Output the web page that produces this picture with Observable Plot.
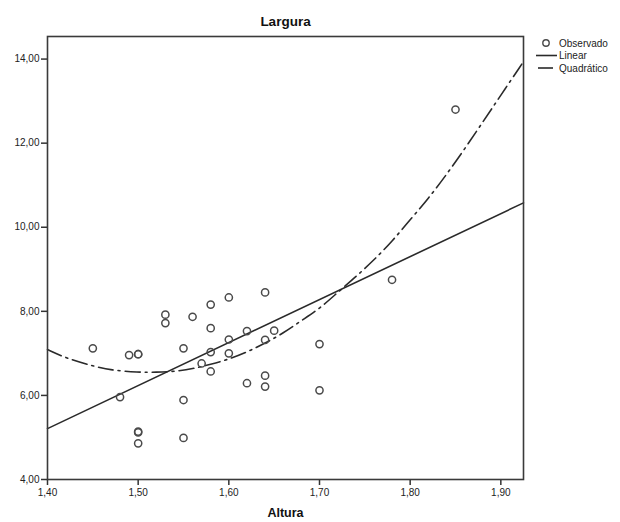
<!DOCTYPE html>
<html>
<head>
<meta charset="utf-8">
<script src="https://cdn.jsdelivr.net/npm/d3@7"></script>
<script src="https://cdn.jsdelivr.net/npm/@observablehq/plot@0.6"></script>
<style>
  html, body { margin: 0; padding: 0; background: #fff; }
  #wrap { position: relative; width: 620px; height: 522px; font-family: "Liberation Sans", Arial, sans-serif; }
  #legend { position: absolute; left: 0; top: 0; pointer-events: none; }
</style>
</head>
<body>
<div id="wrap"></div>
<script>
// Observed data (Altura, Largura)
const altura  = [1.45, 1.48, 1.49, 1.50, 1.50, 1.50, 1.50, 1.50, 1.53, 1.53, 1.55, 1.55, 1.55, 1.56, 1.57,
                 1.58, 1.58, 1.58, 1.58, 1.60, 1.60, 1.60, 1.62, 1.62, 1.64, 1.64, 1.64, 1.64, 1.65,
                 1.70, 1.70, 1.78, 1.85];
const largura = [7.12, 5.96, 6.96, 6.98, 6.98, 5.12, 5.14, 4.86, 7.92, 7.72, 7.12, 5.89, 4.99, 7.87, 6.76,
                 8.16, 7.60, 7.03, 6.57, 8.33, 7.33, 7.00, 7.53, 6.29, 8.45, 7.32, 6.47, 6.21, 7.54,
                 7.22, 6.12, 8.75, 12.80];

// Linear fit (at the frame edges)
const linX = [1.40, 1.925];
const linY = [5.21, 10.58];

// Quadratic fit
const quadX = [1.40, 1.42, 1.45, 1.47, 1.50, 1.52, 1.54, 1.56, 1.58, 1.60, 1.62, 1.64, 1.66,
               1.68, 1.70, 1.72, 1.74, 1.76, 1.78, 1.80, 1.82, 1.84, 1.86, 1.88, 1.90, 1.925];
const quadY = [7.09, 6.89, 6.70, 6.60, 6.55, 6.55, 6.57, 6.63, 6.74, 6.86, 7.03, 7.24, 7.48,
               7.78, 8.06, 8.45, 8.82, 9.22, 9.66, 10.18, 10.68, 11.25, 11.86, 12.50, 13.14, 13.94];

const xTicks = [1.40, 1.50, 1.60, 1.70, 1.80, 1.90];
const yTicks = [4, 6, 8, 10, 12, 14];
const title = "Largura";
const xLabel = "Altura";
const legendLabels = ["Observado", "Linear", "Quadrático"];

const fmt = d => d.toFixed(2).replace(".", ",");
const points = altura.map((x, i) => ({x, y: largura[i]}));
const lin = linX.map((x, i) => ({x, y: linY[i]}));
const quad = quadX.map((x, i) => ({x, y: quadY[i]}));
const dash = "15,5,2,5";

const chart = Plot.plot({
  width: 620,
  height: 522,
  marginLeft: 47,
  marginRight: 97,
  marginTop: 36,
  marginBottom: 43,
  style: {fontFamily: "\"Liberation Sans\", Arial, sans-serif", fontSize: "10px", color: "#222", background: "#fff"},
  x: {domain: [1.40, 1.925], ticks: xTicks, tickFormat: fmt, label: null},
  y: {domain: [4, 14.537], ticks: yTicks, tickFormat: fmt, label: null},
  marks: [
    Plot.axisX({ticks: xTicks, tickFormat: fmt, tickSize: 6, tickPadding: 3, stroke: "#333", strokeWidth: 1.5, fontSize: 10, label: null}),
    Plot.axisY({ticks: yTicks, tickFormat: fmt, tickSize: 6, tickPadding: 2, stroke: "#333", strokeWidth: 1.5, fontSize: 10, label: null}),
    Plot.line(lin, {x: "x", y: "y", stroke: "#2a2a2a", strokeWidth: 1.6}),
    Plot.line(quad, {x: "x", y: "y", curve: "basis", stroke: "#2a2a2a", strokeWidth: 1.6, strokeDasharray: dash}),
    Plot.dot(points, {x: "x", y: "y", r: 3.6, stroke: "#4a4a4a", strokeWidth: 1.5, fill: "none"}),
    Plot.frame({stroke: "#3a3a3a", strokeWidth: 1.6}),
    Plot.text([title], {frameAnchor: "top", dy: -20, fontSize: 13.5, fontWeight: "bold", fill: "#111"}),
    Plot.text([xLabel], {frameAnchor: "bottom", dy: 37, fontSize: 12.5, fontWeight: "bold", fill: "#111"})
  ]
});
const wrap = document.getElementById("wrap");
wrap.appendChild(chart);

// Legend (outside plot area, top right)
const ns = "http://www.w3.org/2000/svg";
const lg = d3.select(wrap).append("svg").attr("id", "legend").attr("width", 620).attr("height", 522);
const lx = 536, rows = [43, 55.5, 68];
const g = lg.append("g").attr("font-family", "\"Liberation Sans\", Arial, sans-serif").attr("font-size", 10).attr("fill", "#222");
g.append("circle").attr("cx", lx + 10).attr("cy", rows[0]).attr("r", 3.2).attr("fill", "none").attr("stroke", "#4a4a4a").attr("stroke-width", 1.4);
g.append("line").attr("x1", lx).attr("x2", lx + 21).attr("y1", rows[1]).attr("y2", rows[1]).attr("stroke", "#2a2a2a").attr("stroke-width", 1.6);
g.append("line").attr("x1", lx + 2).attr("x2", lx + 19).attr("y1", rows[2]).attr("y2", rows[2]).attr("stroke", "#2a2a2a").attr("stroke-width", 1.6).attr("stroke-dasharray", dash);
legendLabels.forEach((t, i) => {
  g.append("text").attr("x", lx + 23).attr("y", rows[i]).attr("dy", "0.35em").text(t);
});
</script>
</body>
</html>
